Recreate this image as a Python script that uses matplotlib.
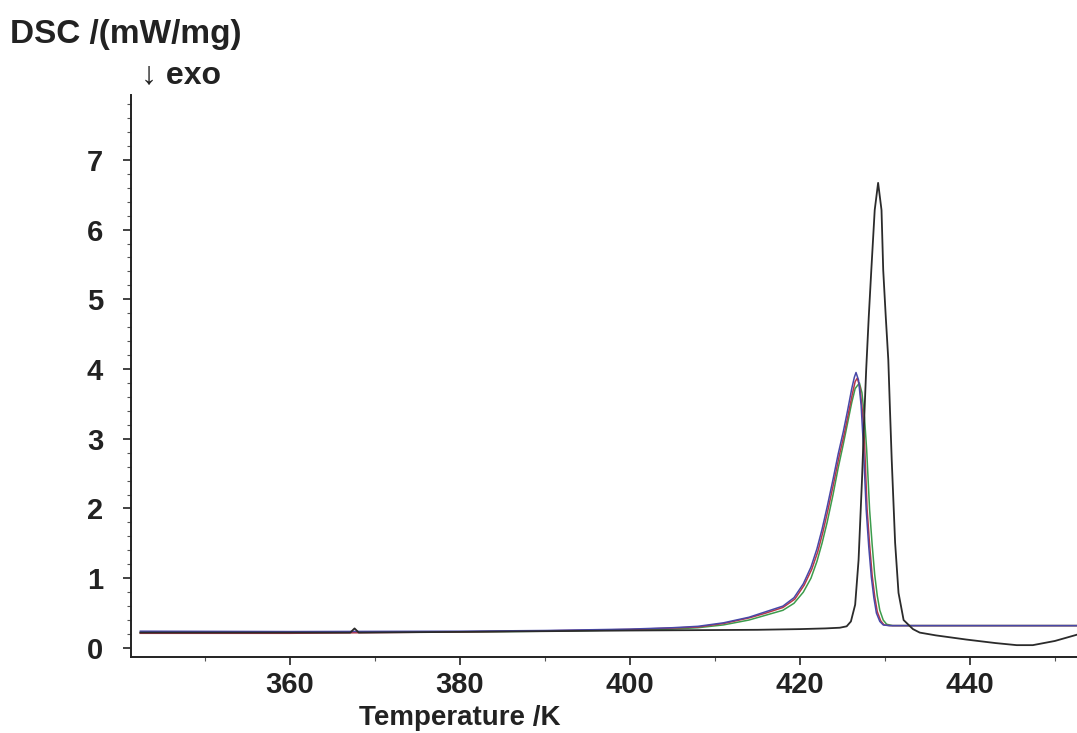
import matplotlib.pyplot as plt
from matplotlib.ticker import MultipleLocator

plt.rcParams['font.family'] = ['Liberation Sans', 'DejaVu Sans']
plt.rcParams['font.weight'] = 'bold'

# DSC curves: temperature /K and DSC /(mW/mg)
t_blue = [342.4, 360, 380, 390, 400, 405, 408, 411, 414, 416, 418, 419.3, 420.4, 421.3, 422,
          422.6, 423.2, 423.9, 424.5, 425.1, 425.6, 426.1, 426.4, 426.6, 426.9, 427.2, 427.45,
          427.8, 428.1, 428.4, 428.7, 429.0, 429.4, 429.8, 430.5, 452.6]
v_blue = [0.24, 0.235, 0.24, 0.25, 0.27, 0.29, 0.31, 0.36, 0.44, 0.52, 0.60, 0.72, 0.92, 1.16, 1.42,
          1.70, 2.02, 2.42, 2.78, 3.10, 3.40, 3.72, 3.88, 3.95, 3.84, 3.48, 2.94,
          1.98, 1.45, 1.02, 0.72, 0.50, 0.38, 0.33, 0.32, 0.32]

t_red = [342.4, 360, 380, 390, 400, 405, 408, 411, 414, 416, 418, 419.4, 420.5, 421.4, 422.1,
         422.7, 423.3, 424.0, 424.6, 425.2, 425.7, 426.2, 426.5, 426.75, 427.05, 427.35, 427.6,
         427.9, 428.2, 428.5, 428.8, 429.1, 429.5, 429.9, 430.6, 452.6]
v_red = [0.21, 0.21, 0.23, 0.245, 0.265, 0.285, 0.30, 0.35, 0.43, 0.50, 0.58, 0.70, 0.90, 1.13, 1.38,
         1.66, 1.98, 2.38, 2.74, 3.06, 3.36, 3.66, 3.82, 3.87, 3.74, 3.40, 2.95,
         2.0, 1.48, 1.04, 0.74, 0.52, 0.39, 0.33, 0.32, 0.32]

t_green = [342.4, 360, 380, 390, 400, 405, 408, 411, 414, 416, 418, 419.3, 420.4, 421.3, 422,
           422.6, 423.2, 423.9, 424.5, 425.1, 425.6, 426.1, 426.5, 427.0, 427.3, 427.6, 427.85,
           428.2, 428.5, 428.8, 429.1, 429.4, 429.8, 430.2, 430.9, 452.6]
v_green = [0.22, 0.22, 0.23, 0.24, 0.26, 0.27, 0.29, 0.33, 0.40, 0.47, 0.54, 0.64, 0.80, 1.0, 1.24,
           1.50, 1.80, 2.20, 2.58, 2.92, 3.22, 3.52, 3.72, 3.80, 3.66, 3.30, 2.85,
           1.98, 1.48, 1.05, 0.75, 0.54, 0.40, 0.34, 0.32, 0.32]

t_black = [342.4, 360, 367.1, 367.6, 368.1, 380, 400, 415, 420, 423, 424.7, 425.5, 426.0, 426.5,
           426.9, 427.3, 427.6, 427.8, 428.1, 428.4, 428.8, 429.2, 429.6, 429.8, 430.1, 430.4,
           430.6, 430.8, 431.2, 431.6, 432.2, 433.3, 434.1, 436, 439.6, 443, 445.5, 447.4, 450, 452.6]
v_black = [0.22, 0.22, 0.22, 0.28, 0.22, 0.23, 0.25, 0.26, 0.27, 0.28, 0.29, 0.31, 0.38, 0.62,
           1.26, 2.40, 3.4, 4.0, 4.75, 5.42, 6.28, 6.67, 6.28, 5.42, 4.75, 4.13,
           3.4, 2.7, 1.51, 0.79, 0.40, 0.27, 0.22, 0.18, 0.12, 0.07, 0.04, 0.04, 0.10, 0.19]

x_ticks = [360, 380, 400, 420, 440]
y_ticks = [0, 1, 2, 3, 4, 5, 6, 7]

fig = plt.figure(figsize=(10.77, 7.33), dpi=100)
ax = fig.add_axes([131 / 1077, 1 - 657 / 733, 1 - 131 / 1077, (657 - 95) / 733])

ax.plot(t_green, v_green, color='#3c9c4c', lw=1.1)
ax.plot(t_red, v_red, color='#b83848', lw=1.1)
ax.plot(t_blue, v_blue, color='#4848a8', lw=1.1)
ax.plot(t_black, v_black, color='#2b2b2b', lw=1.3)

ax.set_xlim(341.3, 452.6)
ax.set_ylim(-0.13, 7.93)
ax.set_xticks(x_ticks)
ax.set_yticks(y_ticks)
ax.xaxis.set_minor_locator(MultipleLocator(10))
ax.yaxis.set_minor_locator(MultipleLocator(0.2))

for s in ['top', 'right']:
    ax.spines[s].set_visible(False)
for s in ['left', 'bottom']:
    ax.spines[s].set_linewidth(1.4)
    ax.spines[s].set_color('#222222')

ax.tick_params(axis='both', which='major', direction='out', length=6, width=1.2,
               labelsize=21, colors='#222222')
ax.tick_params(axis='y', which='major', pad=14)
ax.tick_params(axis='x', which='major', pad=4)
ax.tick_params(which='minor', direction='out', length=3, width=0.8, color='#555555')

ax.set_xlabel('Temperature /K', fontsize=20, fontweight='bold', color='#222222')
ax.xaxis.set_label_coords(0.348, -0.086)

fig.text(10 / 1077, 1 - 34 / 733, 'DSC /(mW/mg)', fontsize=24, fontweight='bold',
         color='#222222', va='center', ha='left')
fig.text(141 / 1077, 1 - 75 / 733, '\u2193 exo', fontsize=23, fontweight='bold',
         color='#222222', va='center', ha='left')

plt.savefig('out.png', dpi=100)
